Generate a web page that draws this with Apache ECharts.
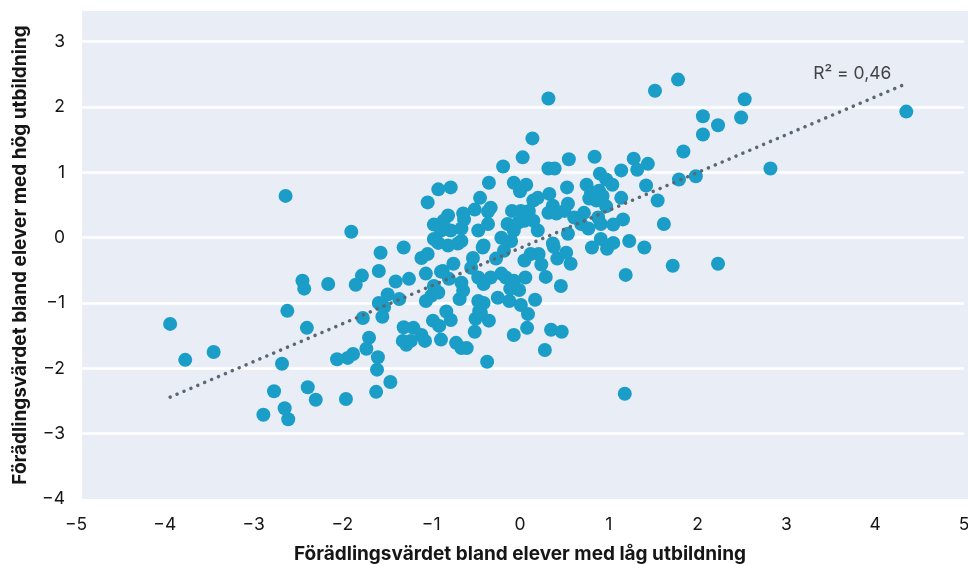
<!DOCTYPE html>
<html>
<head>
<meta charset="utf-8">
<script src="https://cdn.jsdelivr.net/npm/echarts@6/dist/echarts.min.js"></script>
<style>
  html, body { margin: 0; padding: 0; background: #ffffff; }
  #chart { width: 968px; height: 564px; }
</style>
</head>
<body>
<div id="chart"></div>
<script>
// Förädlingsvärde per skola: elever med låg (x) resp. hög (y) utbildningsbakgrund
const lowEdu = [
  -3.94, -3.77, -3.45, -2.64, -2.62, -2.68, -2.40, -2.77, -2.65, -2.61,
  -2.89, -2.39, -2.30, -2.45, -2.43, -2.16, -1.90, -1.57, -1.31, -1.59,
  -1.78, -1.85, -1.40, -1.25, -1.77, -1.59, -1.49, -1.36, -1.53, -1.55,
  -1.70, -1.73, -1.88, -1.94, -2.06, -1.60, -1.61, -1.46, -1.62, -1.96,
  -1.31, -1.20, -1.11, -1.32, -1.28, -1.23, -1.07, -0.89, -0.98, -0.91,
  -0.83, -0.78, -1.06, -0.96, -1.00, -1.06, -1.11, -1.04, -0.89, -0.80,
  -0.68, -0.64, -0.66, -0.72, -0.66, -0.60, -0.50, -0.51, -0.47, -0.41,
  -0.44, -0.35, -0.37, -0.25, -0.12, -0.11, -0.01, 0.01, 0.06, 0.09,
  0.17, 0.08, -0.07, 0.35, 0.47, 0.28, 0.46, 0.29, 0.24, 0.42,
  0.57, 0.52, 0.38, 0.21, 0.81, 0.98, 1.05, 1.23, 1.40, 1.19,
  1.18, -0.75, -0.87, -0.92, -0.53, -0.42, -0.55, -0.47, -0.41, -0.46,
  -0.16, -0.07, -0.21, -0.33, -0.27, -0.18, 0.05, 0.12, -0.70, -0.81,
  -0.92, -0.97, 0.14, 0.32, 0.03, -0.19, -0.35, -0.07, 0.07, 0.00,
  0.15, -0.92, -0.78, -1.04, -0.45, -0.33, -0.36, -0.51, -0.64, -0.63,
  -0.81, -0.97, -0.86, -0.89, -0.78, -0.66, -0.47, -0.36, -0.09, 0.01,
  0.10, -0.14, -0.02, -0.07, -0.21, 0.05, -0.97, -0.66, -0.41, -0.10,
  0.84, 0.55, 0.32, 0.39, 1.28, 1.44, 1.32, 1.14, 0.90, 0.97,
  1.04, 0.75, 0.53, 0.89, 0.80, 0.78, 0.86, 0.93, 1.42, 1.14,
  1.55, 1.62, 0.33, 0.20, 0.54, 0.37, 0.32, 0.41, 0.50, 0.72,
  0.97, 0.88, 0.91, 1.05, 1.16, 0.61, 0.69, 0.77, 0.20, 0.15,
  0.54, 0.91, 0.37, 1.78, 1.52, 2.53, 2.06, 2.23, 2.49, 2.06,
  1.84, 2.82, 1.79, 1.98, 1.72, 2.23, 4.35
];
const highEdu = [
  -1.32, -1.87, -1.75, 0.64, -1.12, -1.93, -1.38, -2.35, -2.61, -2.78,
  -2.71, -2.29, -2.48, -0.66, -0.78, -0.71, 0.09, -0.23, -0.15, -0.51,
  -0.58, -0.72, -0.67, -0.63, -1.23, -1.00, -0.87, -0.94, -1.06, -1.21,
  -1.53, -1.70, -1.78, -1.84, -1.86, -1.83, -2.02, -2.21, -2.36, -2.47,
  -1.37, -1.38, -1.49, -1.58, -1.64, -1.58, -1.58, -1.56, -1.27, -1.35,
  -1.13, -1.26, -0.97, -0.81, -0.89, -0.55, -0.31, -0.25, -0.52, -0.63,
  -0.94, -0.81, -0.69, -1.61, -1.69, -1.69, -1.24, -1.44, -0.97, -1.00,
  -1.15, -1.27, -1.90, -0.92, -0.97, -0.78, -0.80, -1.03, -0.61, -1.17,
  -0.95, -1.38, -1.49, -1.41, -1.44, -1.72, -0.74, -0.60, -0.41, -0.32,
  -0.40, -0.23, -0.14, -0.25, -0.15, -0.17, -0.08, -0.05, -0.15, -0.57,
  -2.39, -0.40, -0.51, -0.84, -0.31, -0.15, -0.46, -0.61, -0.71, -1.12,
  -0.61, -0.66, -0.55, -0.61, -0.32, -0.20, -0.35, -0.25, -0.09, -0.12,
  -0.08, -0.74, 1.52, 2.13, 1.23, 1.09, 0.84, 0.84, 0.81, 0.71,
  0.57, 0.74, 0.77, 0.54, 0.61, 0.46, 0.40, 0.43, 0.37, 0.28,
  0.34, 0.20, 0.26, 0.11, 0.11, 0.14, 0.11, 0.21, 0.41, 0.41,
  0.41, 0.21, 0.23, 0.11, 0.00, 0.26, -0.02, -0.05, -0.12, -0.05,
  1.24, 1.20, 1.06, 1.06, 1.21, 1.13, 1.04, 1.03, 0.98, 0.89,
  0.81, 0.81, 0.77, 0.72, 0.69, 0.60, 0.57, 0.64, 0.80, 0.61,
  0.57, 0.21, 0.67, 0.61, 0.52, 0.49, 0.38, 0.37, 0.41, 0.38,
  0.48, 0.31, 0.21, 0.20, 0.28, 0.31, 0.21, 0.14, 0.11, 0.26,
  0.06, -0.02, -0.09, 2.42, 2.25, 2.12, 1.86, 1.72, 1.84, 1.58,
  1.32, 1.06, 0.89, 0.94, -0.43, -0.40, 1.93
];

// Linjär anpassning och förklaringsgrad
const trendSlope = 0.579;
const trendIntercept = -0.16;
const r2Text = 'R² = 0,46';

const xTicks = [-5, -4, -3, -2, -1, 0, 1, 2, 3, 4, 5];
const yTicks = [-4, -3, -2, -1, 0, 1, 2, 3];

const xTitle = 'Förädlingsvärdet bland elever med låg utbildning';
const yTitle = 'Förädlingsvärdet bland elever med hög utbildning';

const points = lowEdu.map((x, i) => [x, highEdu[i]]);
const xMinData = Math.min(...lowEdu);
const xMaxData = Math.max(...lowEdu);
const trendLine = [xMinData, xMaxData].map(x => [x, trendIntercept + trendSlope * x]);

const FONT = 'Inter, "Noto Sans", sans-serif';
const minusSign = v => String(v).replace('-', '\u2212');

const chart = echarts.init(document.getElementById('chart'), null, { renderer: 'canvas' });

chart.setOption({
  animation: false,
  backgroundColor: '#ffffff',
  grid: {
    left: 76, right: 4, top: 11, bottom: 65,
    containLabel: false,
    outerBoundsMode: 'none'
  },
  graphic: [{
    type: 'rect',
    z: -10,
    shape: { x: 82, y: 11, width: 886, height: 488 },
    style: { fill: '#e9edf5' },
    silent: true
  }],
  xAxis: {
    type: 'value',
    min: xTicks[0],
    max: xTicks[xTicks.length - 1],
    interval: 1,
    axisLine: { show: false },
    axisTick: { show: false },
    splitLine: { show: false },
    axisLabel: {
      color: '#161616', fontFamily: FONT, fontSize: 17.5, margin: 17,
      formatter: v => xTicks.includes(v) ? minusSign(v) : ''
    },
    name: xTitle,
    nameLocation: 'middle',
    nameGap: 46,
    nameTextStyle: { color: '#161616', fontFamily: FONT, fontSize: 19, fontWeight: 'bold' }
  },
  yAxis: {
    type: 'value',
    min: yTicks[0],
    max: 3.47,
    interval: 1,
    axisLine: { show: false },
    axisTick: { show: false },
    splitLine: {
      show: true, showMinLine: false, showMaxLine: false,
      lineStyle: { color: '#ffffff', width: 2.5 }
    },
    axisLabel: {
      color: '#161616', fontFamily: FONT, fontSize: 17.5, margin: 11,
      showMaxLabel: false,
      formatter: v => yTicks.includes(v) ? minusSign(v) : ''
    },
    name: yTitle,
    nameLocation: 'middle',
    nameGap: 46,
    nameTextStyle: { color: '#161616', fontFamily: FONT, fontSize: 19, fontWeight: 'bold' }
  },
  series: [
    {
      type: 'scatter',
      data: points,
      symbol: 'circle',
      symbolSize: 14,
      itemStyle: { color: '#1a9dc7', opacity: 1 },
      z: 2
    },
    {
      type: 'line',
      data: trendLine,
      showSymbol: false,
      symbol: 'none',
      lineStyle: { color: '#5a6874', width: 3.5, type: [0.1, 7.4], cap: 'round' },
      z: 3
    },
    {
      type: 'scatter',
      data: [trendLine[1]],
      symbolSize: 0,
      silent: true,
      label: {
        show: true,
        position: 'top',
        offset: [-54, 4],
        formatter: r2Text,
        color: '#161616',
        fontFamily: FONT,
        fontSize: 17.5
      },
      z: 4
    }
  ]
});
</script>
</body>
</html>
